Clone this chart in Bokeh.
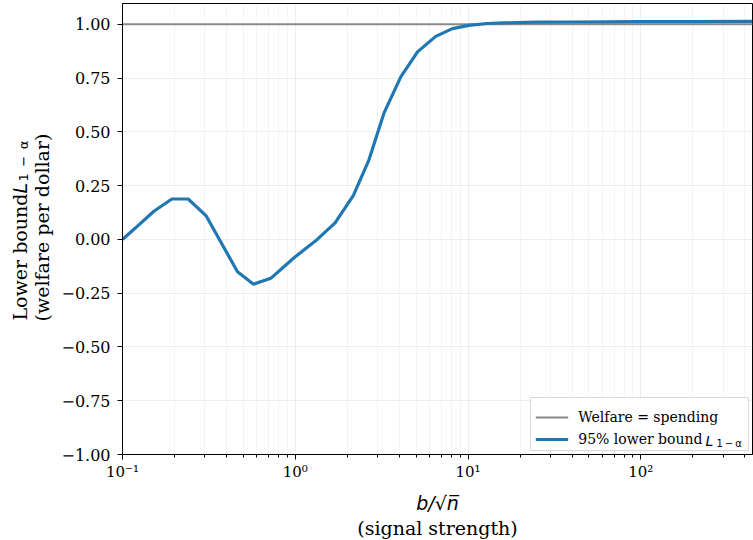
import math
from bokeh.plotting import figure
from bokeh.layouts import row
from bokeh.models import (Range1d, FixedTicker, CustomJSTickFormatter, Label,
                          Legend, LegendItem, BoxAnnotation, Plot, Title)
from bokeh.embed import file_html
from bokeh.resources import INLINE

# ---- data ----
signal = [0.1, 0.119, 0.152, 0.193, 0.240, 0.304, 0.463, 0.573, 0.721, 0.984,
          1.34, 1.70, 2.17, 2.67, 3.26, 4.08, 5.10, 6.50, 8.12, 10.1, 12.9,
          16.0, 25.0, 40.0, 63.0, 100.0, 200.0, 443.0]
lower_bound = [0.0, 0.054, 0.131, 0.188, 0.188, 0.111, -0.150, -0.208, -0.181, -0.085,
               0.0, 0.077, 0.205, 0.370, 0.587, 0.756, 0.872, 0.944, 0.980, 0.995, 1.004,
               1.007, 1.010, 1.011, 1.012, 1.013, 1.013, 1.014]
ref_x = [0.1, 443.0]
ref_y = [1.0, 1.0]
x_major = [0.1, 1, 10, 100]
x_minor = [0.2, 0.3, 0.4, 0.5, 0.6, 0.7, 0.8, 0.9,
           2, 3, 4, 5, 6, 7, 8, 9,
           20, 30, 40, 50, 60, 70, 80, 90,
           200, 300, 400]
y_ticks = [-1.0, -0.75, -0.5, -0.25, 0.0, 0.25, 0.5, 0.75, 1.0]

SERIF = "DejaVu Serif"
SANS = "DejaVu Sans"

YLAB_W = 56
H = 540

p = figure(width=753 - YLAB_W, height=H, output_backend="svg", toolbar_location=None,
           x_axis_type="log", x_range=Range1d(0.1, 443), y_range=Range1d(-1.0, 1.097),
           min_border_left=122 - YLAB_W, min_border_right=1, min_border_top=3,
           min_border_bottom=H - 456)
p.background_fill_color = "white"
p.border_fill_color = "white"
p.outline_line_color = "black"
p.outline_line_width = 1

# grids
p.xgrid.ticker = FixedTicker(ticks=x_major, minor_ticks=x_minor)
p.xgrid.grid_line_color = "#b0b0b0"
p.xgrid.grid_line_alpha = 0.22
p.xgrid.minor_grid_line_color = "#b0b0b0"
p.xgrid.minor_grid_line_alpha = 0.12
p.ygrid.ticker = FixedTicker(ticks=y_ticks)
p.ygrid.grid_line_color = "#b0b0b0"
p.ygrid.grid_line_alpha = 0.22

# axes
xa = p.xaxis[0]
xa.ticker = FixedTicker(ticks=x_major, minor_ticks=x_minor)
xa.formatter = CustomJSTickFormatter(code="""
const sup = {"-":"\u207b","0":"\u2070","1":"\u00b9","2":"\u00b2","3":"\u00b3",
             "4":"\u2074","5":"\u2075","6":"\u2076","7":"\u2077","8":"\u2078","9":"\u2079"};
const e = Math.round(Math.log10(tick));
return "10" + String(e).split("").map(c => sup[c]).join("");
""")
ya = p.yaxis[0]
ya.ticker = FixedTicker(ticks=y_ticks)
ya.formatter = CustomJSTickFormatter(code="""
return tick.toFixed(2).replace("-", "\u2212");
""")
for ax in (xa, ya):
    ax.axis_line_color = "black"
    ax.axis_line_width = 1
    ax.major_tick_line_color = "black"
    ax.major_tick_out = 5
    ax.major_tick_in = 0
    ax.major_label_text_font = SERIF
    ax.major_label_text_color = "black"
xa.minor_tick_line_color = "black"
xa.minor_tick_out = 3
xa.minor_tick_in = 0
ya.minor_tick_line_color = None
xa.major_label_text_font_size = "15px"
ya.major_label_text_font_size = "16px"
xa.major_label_standoff = 3
ya.major_label_standoff = 7

# x-axis label: b/sqrt(n), then "(signal strength)" as a title below it
xa.axis_label = "b/\u221an\u0305"
xa.axis_label_text_font = SANS
xa.axis_label_text_font_style = "italic"
xa.axis_label_text_font_size = "19px"
xa.axis_label_text_color = "black"
xa.axis_label_standoff = 8
p.add_layout(Title(text="(signal strength)", align="center", vertical_align="top",
                   standoff=0, offset=0, text_font=SERIF, text_font_size="19px",
                   text_font_style="normal", text_color="black"), "below")

# lines
r_ref = p.line(ref_x, ref_y, line_color="#8a8a8a", line_width=2)
r_lb = p.line(signal, lower_bound, line_color="#1f77b4", line_width=3.2)

# legend background (drawn below the math overlay)
p.add_layout(BoxAnnotation(left=408, right=626, top=57, bottom=4,
                           left_units="screen", right_units="screen",
                           top_units="screen", bottom_units="screen",
                           fill_color="white", fill_alpha=0.85,
                           line_color="#d0d0d0", line_alpha=0.8, line_width=1))

legend = Legend(items=[LegendItem(label="Welfare = spending", renderers=[r_ref]),
                       LegendItem(label="95% lower bound" + "\u00a0" * 10, renderers=[r_lb])],
                location="bottom_right")
legend.margin = 5
legend.padding = 4
legend.spacing = 2
legend.glyph_width = 33
legend.glyph_height = 20
legend.label_height = 20
legend.label_standoff = 10
legend.label_text_font = SERIF
legend.label_text_font_size = "14px"
legend.label_text_color = "black"
legend.border_line_color = None
legend.background_fill_alpha = 0.0
p.add_layout(legend)


def mk(text, x, y, size, font=SERIF, style="normal", angle=0.0, align="left",
       baseline="alphabetic"):
    return Label(x=x, y=y, x_units="screen", y_units="screen", text=text,
                 text_font=font, text_font_size=size, text_font_style=style,
                 angle=angle, text_align=align, text_baseline=baseline,
                 text_color="black")

# legend math part  L_{1-alpha}
p.add_layout(mk("L", 583, 14, "14px", font=SANS, style="italic"))
p.add_layout(mk("1\u2009\u2212\u2009\u03b1", 594, 11, "10px", font=SANS))

# y-axis label panel (its frame is aligned with the main frame: y = 456 - page y)
yl = Plot(width=YLAB_W, height=H, output_backend="svg", toolbar_location=None,
          x_range=Range1d(0, YLAB_W), y_range=Range1d(0, H), title=None,
          min_border=0, min_border_left=0, min_border_right=0,
          min_border_top=0, min_border_bottom=0,
          outline_line_color=None, background_fill_color="white",
          border_fill_color="white")
A = math.pi / 2
yl.add_layout(mk("Lower bound", 19, 134, "19px", angle=A))
yl.add_layout(mk("L", 19, 261, "19px", font=SANS, style="italic", angle=A))
yl.add_layout(mk("1\u2002\u2212\u2002\u03b1", 23, 273, "13px", font=SANS, angle=A))
yl.add_layout(mk("(welfare per dollar)", 41, 227, "19px", angle=A, align="center"))

layout = row(yl, p, spacing=0)

open("out.html", "w").write(file_html(layout, INLINE))
